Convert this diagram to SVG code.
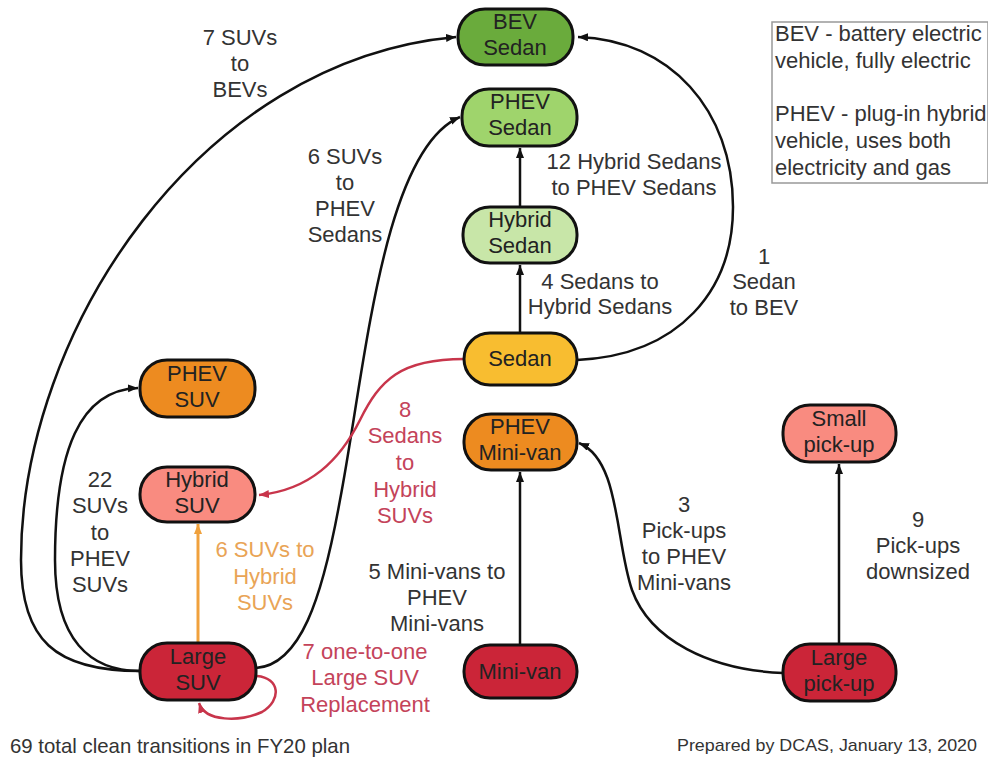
<svg xmlns="http://www.w3.org/2000/svg" width="988" height="757" viewBox="0 0 988 757">
<style>
  text { font-family: "Liberation Sans", Arial, sans-serif; font-size: 22px; fill: #333; text-anchor: middle; }
  .node rect { stroke: #111; stroke-width: 3; }
  .node text { fill: #222; }
  .e { fill: none; stroke: #111; stroke-width: 2.5; }
  .er { fill: none; stroke: #c8354b; stroke-width: 2.5; }
  .eo { fill: none; stroke: #f0a13c; stroke-width: 3; }
  .red { fill: #c4435a; }
  .orange { fill: #e9a456; }
  .legend text { text-anchor: start; font-size: 22px; }
</style>
<defs>
  <marker id="ab" markerUnits="userSpaceOnUse" markerWidth="11" markerHeight="9" refX="10" refY="4" orient="auto"><path d="M0,0 L10,4 L0,8 z" fill="#111"/></marker>
  <marker id="ar" markerUnits="userSpaceOnUse" markerWidth="11" markerHeight="9" refX="10" refY="4" orient="auto"><path d="M0,0 L10,4 L0,8 z" fill="#c8354b"/></marker>
  <marker id="ao" markerUnits="userSpaceOnUse" markerWidth="11" markerHeight="9" refX="10" refY="4" orient="auto"><path d="M0,0 L10,4 L0,8 z" fill="#f0a13c"/></marker>
</defs>
<rect width="988" height="757" fill="#fff"/>

<g id="connectors">
  <path class="e" d="M140,671 C55,671 21,640 21,560 C21,330 200,60 456,37" marker-end="url(#ab)"/>
  <path class="e" d="M140,671 C90,671 55,640 55,560 C55,450 80,390 138,388" marker-end="url(#ab)"/>
  <path class="e" d="M256,668 C300,665 322,600 340,500 C365,370 382,150 460,117" marker-end="url(#ab)"/>
  <path class="er" d="M464,359 C400,359 380,380 360,420 C340,460 310,490 259,495" marker-end="url(#ar)"/>
  <path class="er" d="M257,676 C280,678 282,700 262,712 C240,722 205,722 199,703" marker-end="url(#ar)"/>
  <path class="eo" d="M198,643 L198,524" marker-end="url(#ao)"/>
  <path class="e" d="M520,333 L520,265" marker-end="url(#ab)"/>
  <path class="e" d="M520,207 L520,148" marker-end="url(#ab)"/>
  <path class="e" d="M520,645 L520,472" marker-end="url(#ab)"/>
  <path class="e" d="M839,644 L839,464" marker-end="url(#ab)"/>
  <path class="e" d="M577,360 C680,355 733,290 733,207 C733,110 670,40 578,37" marker-end="url(#ab)"/>
  <path class="e" d="M783,673 C710,670 650,640 632,590 C615,540 620,460 579,443" marker-end="url(#ab)"/>

  <text x="240" y="45">7 SUVs</text><text x="240" y="71">to</text><text x="240" y="97">BEVs</text>
  <text x="345" y="164">6 SUVs</text><text x="345" y="190">to</text><text x="345" y="216">PHEV</text><text x="345" y="242">Sedans</text>
  <text x="634" y="169">12 Hybrid Sedans</text><text x="634" y="195">to PHEV Sedans</text>
  <text x="600" y="289">4 Sedans to</text><text x="600" y="314">Hybrid Sedans</text>
  <text x="764" y="264">1</text><text x="764" y="289">Sedan</text><text x="764" y="315">to BEV</text>
  <text class="red" x="405" y="417">8</text><text class="red" x="405" y="443">Sedans</text><text class="red" x="405" y="470">to</text><text class="red" x="405" y="497">Hybrid</text><text class="red" x="405" y="523">SUVs</text>
  <text x="100" y="487">22</text><text x="100" y="513">SUVs</text><text x="100" y="540">to</text><text x="100" y="566">PHEV</text><text x="100" y="592">SUVs</text>
  <text class="orange" x="265" y="557">6 SUVs to</text><text class="orange" x="265" y="584">Hybrid</text><text class="orange" x="265" y="610">SUVs</text>
  <text x="437" y="579">5 Mini-vans to</text><text x="437" y="605">PHEV</text><text x="437" y="631">Mini-vans</text>
  <text class="red" x="365" y="659">7 one-to-one</text><text class="red" x="365" y="685">Large SUV</text><text class="red" x="365" y="712">Replacement</text>
  <text x="684" y="512">3</text><text x="684" y="538">Pick-ups</text><text x="684" y="564">to PHEV</text><text x="684" y="590">Mini-vans</text>
  <text x="918" y="527">9</text><text x="918" y="553">Pick-ups</text><text x="918" y="579">downsized</text>
</g>

<g id="bev-sedan" class="node"><rect x="458" y="9" width="115" height="56" rx="27" fill="#6aab3c"/><text x="515" y="29">BEV</text><text x="515" y="55">Sedan</text></g>
<g id="phev-sedan" class="node"><rect x="462" y="89" width="115" height="57" rx="27" fill="#9fd46c"/><text x="520" y="109">PHEV</text><text x="520" y="135">Sedan</text></g>
<g id="hybrid-sedan" class="node"><rect x="463" y="207" width="114" height="56" rx="27" fill="#c8e6a8"/><text x="520" y="227">Hybrid</text><text x="520" y="253">Sedan</text></g>
<g id="sedan" class="node"><rect x="464" y="333" width="113" height="52" rx="26" fill="#f8bd30"/><text x="520" y="366">Sedan</text></g>
<g id="phev-minivan" class="node"><rect x="464" y="414" width="113" height="56" rx="27" fill="#ed8b20"/><text x="520" y="434">PHEV</text><text x="520" y="460">Mini-van</text></g>
<g id="minivan" class="node"><rect x="464" y="645" width="113" height="53" rx="26" fill="#cb2538"/><text x="520" y="679">Mini-van</text></g>
<g id="small-pickup" class="node"><rect x="783" y="405" width="113" height="57" rx="27" fill="#f98b80"/><text x="839" y="426">Small</text><text x="839" y="452">pick-up</text></g>
<g id="large-pickup" class="node"><rect x="783" y="644" width="113" height="57" rx="27" fill="#cb2538"/><text x="839" y="665">Large</text><text x="839" y="691">pick-up</text></g>
<g id="phev-suv" class="node"><rect x="140" y="360" width="115" height="57" rx="27" fill="#ed8b20"/><text x="197" y="381">PHEV</text><text x="197" y="407">SUV</text></g>
<g id="hybrid-suv" class="node"><rect x="140" y="467" width="115" height="55" rx="27" fill="#f98b80"/><text x="197" y="487">Hybrid</text><text x="197" y="513">SUV</text></g>
<g id="large-suv" class="node"><rect x="140" y="643" width="116" height="57" rx="27" fill="#cb2538"/><text x="198" y="664">Large</text><text x="198" y="690">SUV</text></g>

<g id="legend" class="legend">
  <rect x="772" y="22" width="216" height="161" fill="#fff" stroke="#999" stroke-width="1.5"/>
  <text x="775" y="41">BEV - battery electric</text>
  <text x="775" y="68">vehicle, fully electric</text>
  <text x="775" y="121">PHEV - plug-in hybrid</text>
  <text x="775" y="148">vehicle, uses both</text>
  <text x="775" y="175">electricity and gas</text>
</g>

<text x="10" y="753" style="text-anchor:start;font-size:21px" textLength="340" lengthAdjust="spacingAndGlyphs">69 total clean transitions in FY20 plan</text>
<text x="677" y="751" style="text-anchor:start;font-size:17px" textLength="300" lengthAdjust="spacingAndGlyphs">Prepared by DCAS, January 13, 2020</text>
</svg>
